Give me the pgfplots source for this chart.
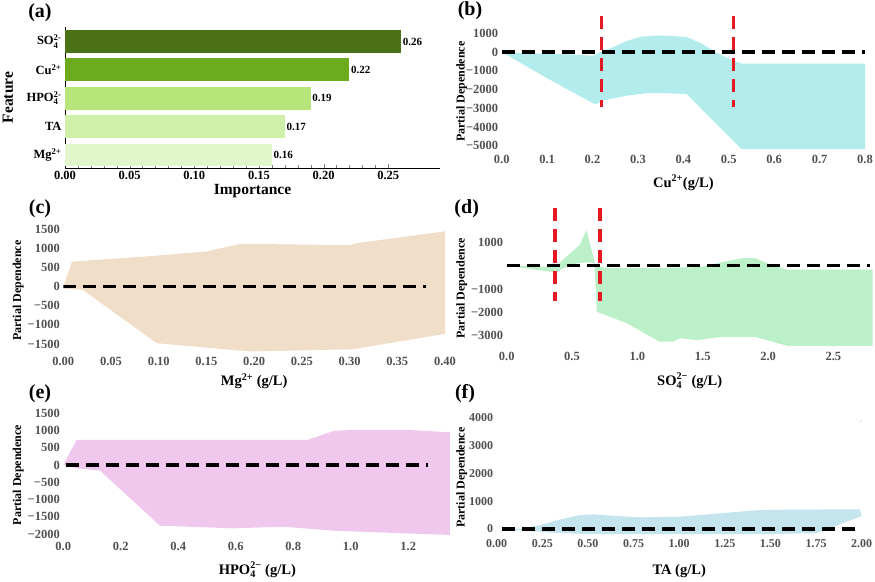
\documentclass[border=0pt]{standalone}
\usepackage{amsmath}
\usepackage{fontspec}
\setmainfont{Liberation Serif}
\usepackage{pgfplots}
\pgfplotsset{compat=1.18}
\definecolor{tickgray}{RGB}{80,80,80}
\definecolor{gA}{RGB}{75,115,22}
\definecolor{gB}{RGB}{108,170,30}
\definecolor{gC}{RGB}{182,230,122}
\definecolor{gD}{RGB}{206,240,168}
\definecolor{gE}{RGB}{226,246,204}
\definecolor{cb}{RGB}{178,236,236}
\definecolor{cc}{RGB}{241,222,200}
\definecolor{cd}{RGB}{188,240,200}
\definecolor{ce}{RGB}{240,200,238}
\definecolor{cf}{RGB}{196,228,238}
\definecolor{rl}{RGB}{230,25,35}
\pgfplotsset{
  pd/.style={scale only axis, enlargelimits=false,
    axis line style={draw=none}, major tick style={draw=none}, minor tick style={draw=none},
    ticklabel style={font=\bfseries\fontsize{12.5}{13}\selectfont, text=tickgray},
  },
  xl/.style={every axis x label/.style={at={([yshift=#1pt]axis description cs:0.5,0)}, anchor=center, font=\bfseries\fontsize{14.5}{15}\selectfont}},
  yl/.style n args={3}{every axis y label/.style={at={([xshift=#1pt]axis description cs:0,#2)}, anchor=center, rotate=90, font=\bfseries\fontsize{#3}{#3}\selectfont}},
  zline/.style={black, line width=3.3pt, dash pattern=on 13pt off 7pt},
  rline/.style={rl, line width=3.3pt, dash pattern=on 13pt off 8pt},
}
\begin{document}
\begin{tikzpicture}[x=1pt,y=1pt]
\useasboundingbox (0,0) rectangle (875,581);
\fill[white] (0,0) rectangle (875,581);

% ---------------- (a)
\begin{axis}[at={(65pt,413pt)}, anchor=south west, scale only axis,
  width=375pt, height=141pt,
  xbar, bar width=0.8, bar shift=0pt,
  xmin=0, xmax=0.29, ymin=-0.46, ymax=4.51,
  axis x line*=bottom, axis y line*=left, axis line style={-,black},
  tick align=inside, major tick length=4pt, minor tick length=2.5pt,
  xtick={0,0.05,0.1,0.15,0.2,0.25}, xticklabels={0.00,0.05,0.10,0.15,0.20,0.25},
  minor x tick num=4,
  ytick={0,1,2,3,4},
  yticklabels={{Mg$^{\text{2+}}$},{TA},{HPO$_{\text{4}}^{\text{2-}}$},{Cu$^{\text{2+}}$},{SO$_{\text{4}}^{\text{2-}}$}},
  ticklabel style={font=\bfseries\fontsize{12.5}{13}\selectfont},
  xlabel={Importance}, ylabel={Feature},
  every axis x label/.style={at={([yshift=-23.5pt]axis description cs:0.5,0)}, anchor=center, font=\bfseries\fontsize{15.5}{16}\selectfont},
  yl={-57}{0.5}{15.5},
  point meta=x,
  nodes near coords={\pgfmathprintnumber[fixed,fixed zerofill,precision=2,assume math mode=true]{\pgfplotspointmeta}},
  nodes near coords style={font=\bfseries\fontsize{11}{11}\selectfont, anchor=west, inner sep=1.5pt},
]
\addplot[fill=gE, draw=none] coordinates {(0.16,0)};
\addplot[fill=gD, draw=none] coordinates {(0.17,1)};
\addplot[fill=gC, draw=none] coordinates {(0.19,2)};
\addplot[fill=gB, draw=none] coordinates {(0.22,3)};
\addplot[fill=gA, draw=none] coordinates {(0.26,4)};
\end{axis}
\node[font=\bfseries\fontsize{20}{20}\selectfont] at (40,568) {(a)};

% ---------------- (b)
\begin{axis}[pd, at={(501.7pt,429.7pt)}, anchor=south west,
  width=363.3pt, height=136.8pt,
  xmin=0, xmax=0.8, ymin=-5300, ymax=2000,
  xtick={0,0.1,0.2,0.3,0.4,0.5,0.6,0.7,0.8},
  xticklabels={0.0,0.1,0.2,0.3,0.4,0.5,0.6,0.7,0.8},
  ytick={-5000,-4000,-3000,-2000,-1000,0,1000},
  yticklabels={−5000,−4000,−3000,−2000,−1000,0,1000},
  xlabel={Cu$^{\text{2+}}$(g/L)}, ylabel={Partial Dependence},
  xl=-31.4, yl={-40}{0.436}{12},
]
\addplot[fill=cb, draw=none] coordinates {
 (0,0) (0.05,-60) (0.1,-100) (0.15,-130) (0.2,-200) (0.224,50) (0.246,265) (0.275,580)
 (0.305,810) (0.341,880) (0.378,850) (0.407,800) (0.44,450) (0.473,-35) (0.503,-390)
 (0.528,-620) (0.8,-620)
 (0.8,-5190) (0.528,-5190) (0.407,-2240) (0.35,-2190) (0.319,-2200) (0.275,-2330)
 (0.224,-2590) (0.206,-2800) (0.1,-1400) (0,0)} -- cycle;
\addplot[zline] coordinates {(0,0) (0.8,0)};
\addplot[rline] coordinates {(0.22,1905) (0.22,-2950)};
\addplot[rline] coordinates {(0.51,1905) (0.51,-2950)};
\end{axis}
\node[font=\bfseries\fontsize{20}{20}\selectfont] at (470,570) {(b)};

% ---------------- (c)
\begin{axis}[pd, at={(63.3pt,227.4pt)}, anchor=south west,
  width=381.7pt, height=128.4pt,
  xmin=0, xmax=0.4, ymin=-1750, ymax=1600,
  xtick={0,0.05,0.1,0.15,0.2,0.25,0.3,0.35,0.4},
  xticklabels={0.00,0.05,0.10,0.15,0.20,0.25,0.30,0.35,0.40},
  ytick={-1500,-1000,-500,0,500,1000,1500},
  yticklabels={−1500,−1000,−500,0,500,1000,1500},
  xlabel={Mg$^{\text{2+}}$ (g/L)}, ylabel={Partial Dependence},
  xl=-27.4, yl={-45}{0.489}{12},
]
\addplot[fill=cc, draw=none] coordinates {
 (0,0) (0.009,650) (0.05,720) (0.1,810) (0.15,913) (0.185,1110) (0.2,1110) (0.3,1080)
 (0.307,1130) (0.4,1440)
 (0.4,-1235) (0.304,-1635) (0.196,-1696) (0.098,-1478) (0.02,-80) (0,-60)} -- cycle;
\addplot[zline] coordinates {(0,0) (0.38,0)};
\end{axis}
\node[font=\bfseries\fontsize{20}{20}\selectfont] at (40,372.7) {(c)};

% ---------------- (d)
\begin{axis}[pd, at={(506.7pt,232.5pt)}, anchor=south west,
  width=365.9pt, height=141.1pt,
  xmin=0, xmax=2.8, ymin=-3550, ymax=2500,
  xtick={0,0.5,1,1.5,2,2.5},
  xticklabels={0.0,0.5,1.0,1.5,2.0,2.5},
  ytick={-3000,-2000,-1000,1000},
  yticklabels={−3000,−2000,−1000,1000},
  xlabel={SO$_{\text{4}}^{\text{2−}}$ (g/L)}, ylabel={Partial Dependence},
  xl=-32.5, yl={-45}{0.427}{12},
]
\addplot[fill=cd, draw=none] coordinates {
 (0,0) (0.2,-20) (0.33,-60) (0.38,-40) (0.42,200) (0.5,600) (0.56,900) (0.61,1530)
 (0.68,0) (0.75,-90) (1.2,-90) (1.48,-60) (1.65,150) (1.8,320) (1.9,320) (2.04,0)
 (2.15,-170) (2.8,-170)
 (2.8,-3440) (2.15,-3440) (1.9,-3050) (1.65,-3050) (1.45,-3190) (1.33,-3110)
 (1.27,-3260) (1.17,-3260) (0.92,-2470) (0.69,-1970) (0.67,120) (0.6,150) (0.5,60)
 (0.42,-150) (0.38,-280) (0.3,-230) (0.1,-80) (0,0)} -- cycle;
\addplot[zline] coordinates {(0,0) (2.78,0)};
\addplot[rline] coordinates {(0.37,2457) (0.37,-1514)};
\addplot[rline] coordinates {(0.714,2457) (0.714,-1514)};
\end{axis}
\node[font=\bfseries\fontsize{20}{20}\selectfont] at (466.7,372.7) {(d)};

% ---------------- (e)
\begin{axis}[pd, at={(63.3pt,41.9pt)}, anchor=south west,
  width=388.1pt, height=129.3pt,
  xmin=0, xmax=1.35, ymin=-2150, ymax=1600,
  xtick={0,0.2,0.4,0.6,0.8,1,1.2},
  xticklabels={0.0,0.2,0.4,0.6,0.8,1.0,1.2},
  ytick={-2000,-1500,-1000,-500,0,500,1000,1500},
  yticklabels={−2000,−1500,−1000,−500,0,500,1000,1500},
  xlabel={HPO$_{\text{4}}^{\text{2−}}$ (g/L)}, ylabel={Partial Dependence},
  xl=-31, yl={-45}{0.496}{12},
]
\addplot[fill=ce, draw=none] coordinates {
 (0,0) (0.046,725) (0.85,725) (0.94,987) (1.0,1015) (1.2,1015) (1.345,948)
 (1.345,-2031) (0.94,-1906) (0.765,-1790) (0.59,-1838) (0.336,-1760) (0.128,-165)
 (0.05,-100) (0,0)} -- cycle;
\addplot[zline] coordinates {(0.01,0) (1.27,0)};
\end{axis}
\node[font=\bfseries\fontsize{20}{20}\selectfont] at (40,187) {(e)};

% ---------------- (f)
\begin{axis}[pd, at={(496.7pt,45pt)}, anchor=south west,
  width=365pt, height=123.9pt,
  xmin=0, xmax=2, ymin=-250, ymax=4200,
  xtick={0,0.25,0.5,0.75,1,1.25,1.5,1.75,2},
  xticklabels={0.00,0.25,0.50,0.75,1.00,1.25,1.50,1.75,2.00},
  ytick={0,1000,2000,3000,4000},
  yticklabels={0,1000,2000,3000,4000},
  ticklabel style={font=\bfseries\fontsize{12}{12}\selectfont},
  xlabel={TA (g/L)}, ylabel={Partial Dependence},
  xl=-34.7, yl={-35}{0.472}{12},
]
\addplot[fill=cf, draw=none] coordinates {
 (0.03,0) (0.15,20) (0.24,144) (0.35,350) (0.457,503) (0.53,527) (0.65,470)
 (0.785,420) (1.0,443) (1.2,550) (1.44,683) (1.7,700) (1.99,707) (2.0,467)
 (1.75,-150) (1.5,-180) (1.0,-180) (0.5,-180) (0.3,-130) (0.15,-50) (0.03,0)} -- cycle;
\addplot[fill=cf, draw=none] coordinates {(1.985,3800) (2.0,3880) (2.0,3930) (1.99,3850)} -- cycle;
\addplot[zline] coordinates {(0.03,0) (2.0,0)};
\end{axis}
\node[font=\bfseries\fontsize{20}{20}\selectfont] at (465,187.7) {(f)};
\end{tikzpicture}
\end{document}
